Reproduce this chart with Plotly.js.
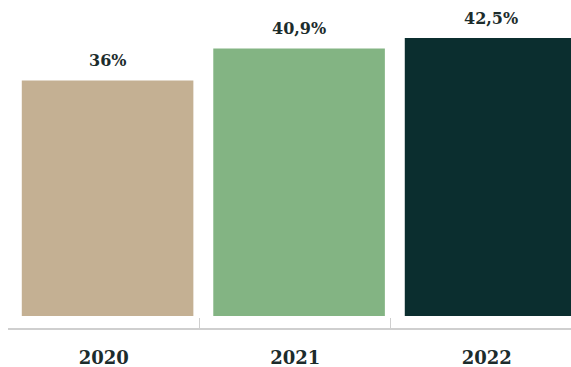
<!DOCTYPE html>
<html><head><meta charset="utf-8">
<script src="https://cdn.plot.ly/plotly-3.0.1.min.js"></script>
<style>html,body{margin:0;padding:0;background:#fff}#c{width:571px;height:367px}</style>
</head><body><div id="c"></div>
<script>
const categories = ["2020", "2021", "2022"];
const values = [36, 40.9, 42.5];
const colors = ["#c4b093", "#83b483", "#0b2e2f"];

const labels = values.map(v => String(v).replace('.', ',') + '%');
const serif = "DejaVu Serif, Liberation Serif, serif";
const barWidth = 0.896, barOffset = -0.428;

const trace = {
  type: 'bar', x: categories, y: values,
  marker: {color: colors, line: {width: 0}},
  width: barWidth, offset: barOffset, hoverinfo: 'none'
};
const annotations = categories.map((c, i) => ({
  x: i + barOffset + barWidth / 2, y: values[i], xref: 'x', yref: 'y',
  text: '<b>' + labels[i] + '</b>',
  showarrow: false, yanchor: 'bottom', yshift: 8,
  font: {family: serif, size: 16, color: '#1c2c2c'}
}));
Plotly.newPlot('c', [trace], {
  width: 571, height: 367,
  margin: {l: 8, r: 0, t: 0, b: 39},
  paper_bgcolor: '#fff', plot_bgcolor: '#fff',
  showlegend: false,
  xaxis: {
    type: 'category', range: [-0.5, 2.44], fixedrange: true,
    showline: true, linecolor: '#cfcfcf', linewidth: 1.5,
    ticks: 'inside', tickson: 'boundaries', ticklen: 10, tickcolor: '#cfcfcf', tickwidth: 1,
    showgrid: false, zeroline: false,
    ticklabelstandoff: 13,
    tickfont: {family: serif, size: 18, color: '#1c2c2c', weight: 'bold'}
  },
  yaxis: {
    range: [-1.83, 48.3], visible: false, showgrid: false, zeroline: false, fixedrange: true
  },
  annotations: annotations
}, {displayModeBar: false, staticPlot: true});
</script>
</body></html>
